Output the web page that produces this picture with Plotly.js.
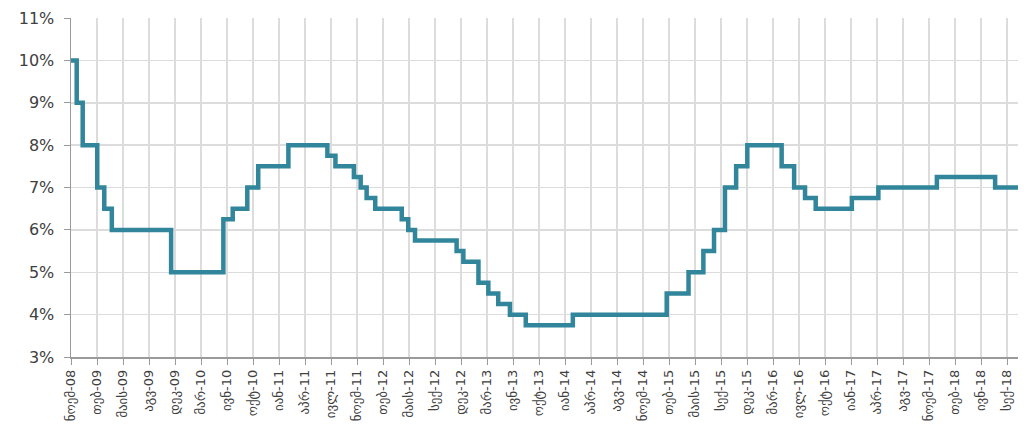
<!DOCTYPE html>
<html>
<head>
<meta charset="utf-8">
<script src="https://cdn.plot.ly/plotly-3.0.1.min.js"></script>
<style>
  html, body { margin: 0; padding: 0; background: #ffffff; }
  #chart { width: 1026px; height: 432px; }
</style>
</head>
<body>
<div id="chart"></div>
<script>
// Dates at which the rate changed and the rate (%) from that date on
const changeDates = [
  "2008-11-01", "2008-11-23", "2008-12-16", "2009-02-10", "2009-03-09", "2009-04-07",
  "2009-11-21", "2010-06-10", "2010-07-16", "2010-09-10", "2010-10-22", "2011-02-15",
  "2011-07-15", "2011-08-15", "2011-10-25", "2011-11-20", "2011-12-13", "2012-01-15",
  "2012-04-26", "2012-05-21", "2012-06-16", "2012-11-23", "2012-12-19", "2013-02-15",
  "2013-03-25", "2013-05-02", "2013-06-16", "2013-08-16", "2014-02-13", "2015-02-09",
  "2015-05-04", "2015-06-30", "2015-08-10", "2015-09-21", "2015-11-03", "2015-12-16",
  "2016-04-26", "2016-06-13", "2016-07-25", "2016-09-04", "2017-01-21", "2017-05-03",
  "2017-12-14", "2018-07-26", "2018-10-22"
];
const rates = [
  10, 9, 8, 7, 6.5, 6,
  5, 6.25, 6.5, 7, 7.5, 8,
  7.75, 7.5, 7.25, 7, 6.75, 6.5,
  6.25, 6, 5.75, 5.5, 5.25, 4.75,
  4.5, 4.25, 4, 3.75, 4, 4.5,
  5, 5.5, 6, 7, 7.5, 8,
  7.5, 7, 6.75, 6.5, 6.75, 7,
  7.25, 7, 7
];

// Axis tick labels (Georgian month abbreviations), one every 100 days from the first date
const tickLabels = [
  "ნოემ-08", "თებ-09", "მაის-09", "აგვ-09", "დეკ-09", "მარ-10", "ივნ-10", "ოქტ-10",
  "იან-11", "აპრ-11", "ივლ-11", "ნოემ-11", "თებ-12", "მაის-12", "სექ-12", "დეკ-12",
  "მარ-13", "ივნ-13", "ოქტ-13", "იან-14", "აპრ-14", "აგვ-14", "ნოემ-14", "თებ-15",
  "მაის-15", "სექ-15", "დეკ-15", "მარ-16", "ივლ-16", "ოქტ-16", "იან-17", "აპრ-17",
  "აგვ-17", "ნოემ-17", "თებ-18", "ივნ-18", "სექ-18"
];
const tickStart = "2008-11-01";
const tickStepDays = 100;

const t0 = Date.parse(tickStart + "T00:00:00Z");
const tickVals = tickLabels.map((_, i) =>
  new Date(t0 + i * tickStepDays * 86400000).toISOString().slice(0, 10));

const trace = {
  x: changeDates,
  y: rates,
  type: "scatter",
  mode: "lines",
  line: { shape: "hv", color: "#31869b", width: 4.5 },
  hoverinfo: "x+y"
};

const layout = {
  width: 1026,
  height: 432,
  margin: { l: 71, r: 8, t: 18, b: 75 },
  paper_bgcolor: "#ffffff",
  plot_bgcolor: "#ffffff",
  showlegend: false,
  font: { family: "DejaVu Sans, sans-serif", color: "#404040" },
  xaxis: {
    type: "date",
    range: [changeDates[0], changeDates[changeDates.length - 1]],
    tickmode: "array",
    tickvals: tickVals,
    ticktext: tickLabels,
    tickangle: -90,
    tickfont: { size: 13, color: "#404040", family: "DejaVu Sans, sans-serif" },
    showgrid: true,
    gridcolor: "#dcdcdc",
    gridwidth: 1.5,
    showline: true,
    linecolor: "#9a9a9a",
    linewidth: 1.5,
    ticks: "outside",
    ticklen: 6,
    tickcolor: "#9a9a9a",
    zeroline: false,
    fixedrange: true
  },
  yaxis: {
    range: [3, 11],
    dtick: 1,
    tick0: 3,
    ticksuffix: "%",
    tickfont: { size: 16, color: "#404040", family: "DejaVu Sans, sans-serif" },
    ticklabelstandoff: 6,
    showgrid: true,
    gridcolor: "#dcdcdc",
    gridwidth: 1.5,
    showline: true,
    linecolor: "#9a9a9a",
    linewidth: 1.5,
    ticks: "outside",
    ticklen: 6,
    tickcolor: "#9a9a9a",
    zeroline: false,
    fixedrange: true
  }
};

Plotly.newPlot("chart", [trace], layout, { displayModeBar: false, staticPlot: true });
</script>
</body>
</html>
